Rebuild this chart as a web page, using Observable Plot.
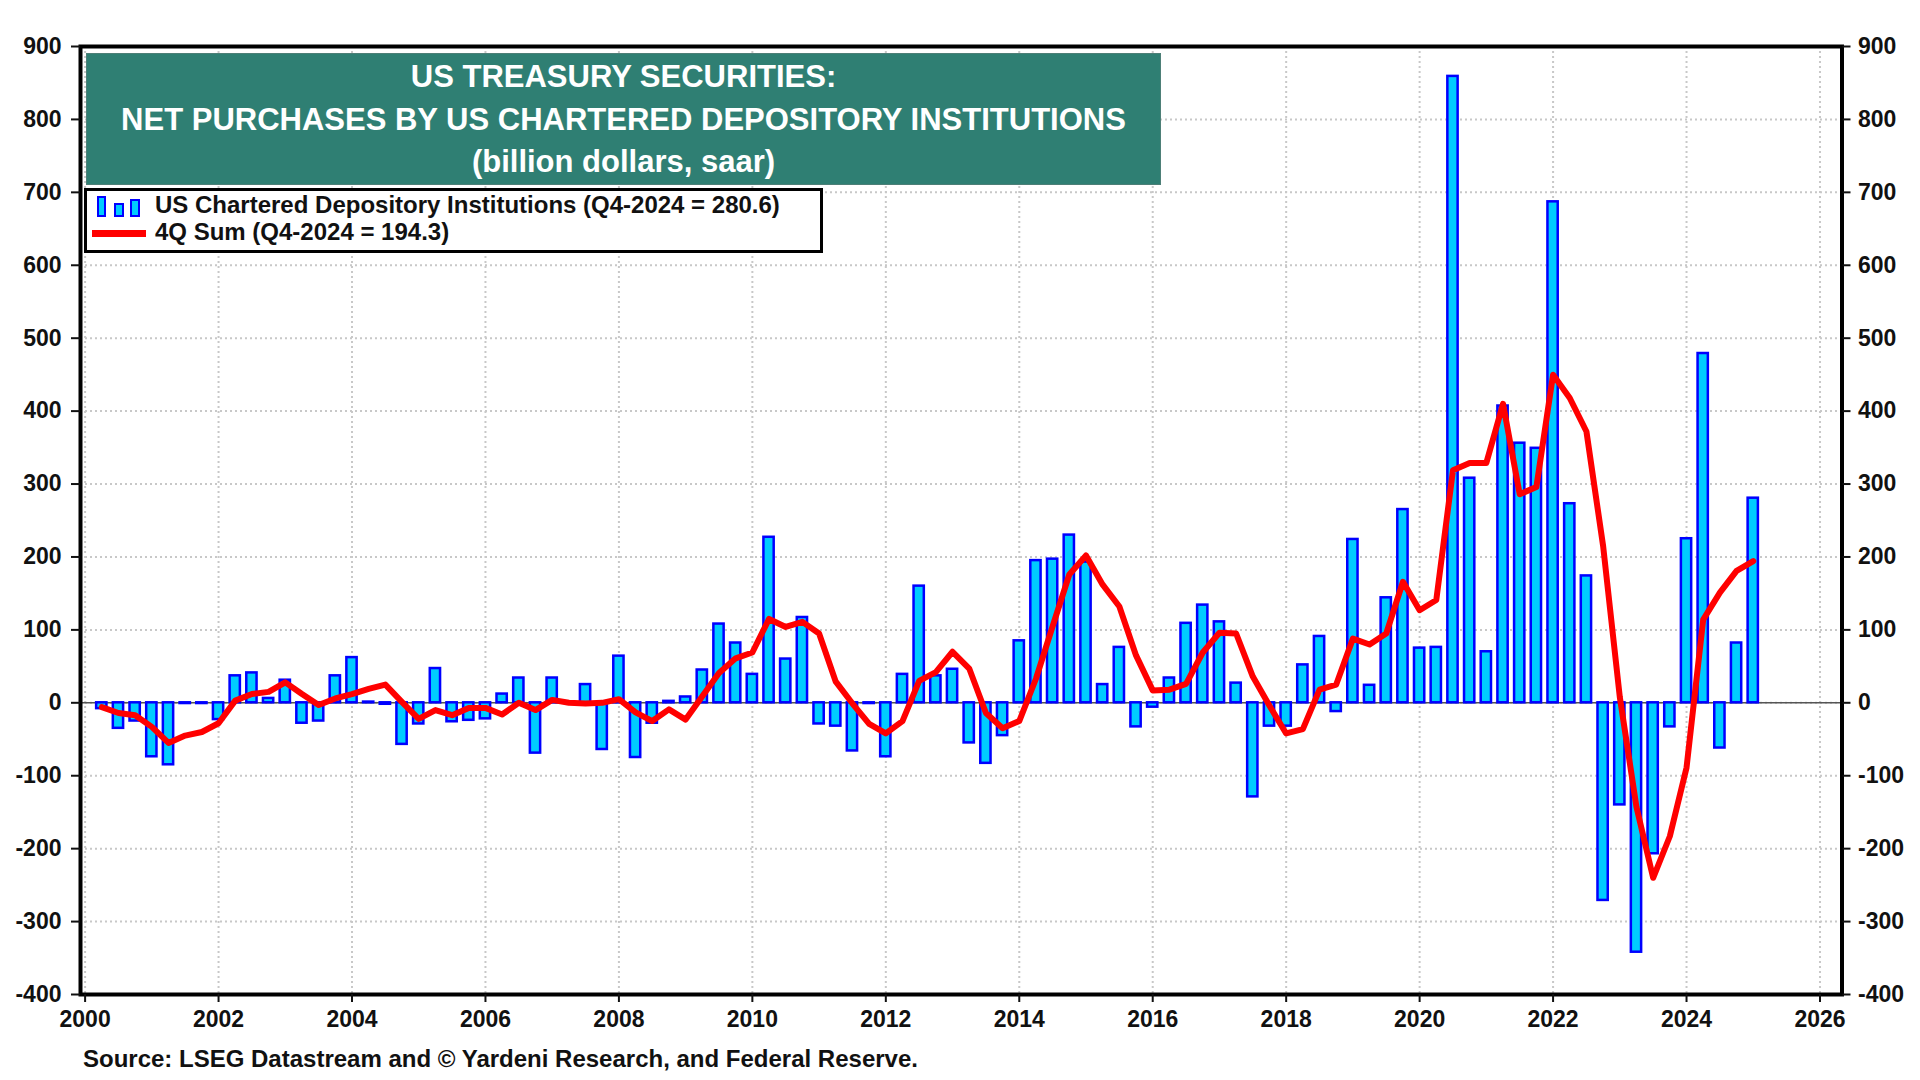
<!DOCTYPE html>
<html>
<head>
<meta charset="utf-8">
<script src="https://cdn.jsdelivr.net/npm/d3@7"></script>
<script src="https://cdn.jsdelivr.net/npm/@observablehq/plot@0.6"></script>
<style>
  html, body { margin: 0; padding: 0; background: white; }
  #wrap { position: relative; width: 1920px; height: 1080px; overflow: hidden; font-family: "Liberation Sans", Arial, sans-serif; font-weight: bold; }
  #title { position: absolute; left: 86px; top: 53px; width: 1075px; height: 132px; box-sizing: border-box;
           background: #2f7f73; border: 1px solid #4d7f77; color: white; font-size: 31px; line-height: 42.5px;
           text-align: center; padding-top: 2px; }
  #legend { position: absolute; left: 84px; top: 188px; width: 739px; height: 65px; box-sizing: border-box;
            background: white; border: 3px solid black; }
  .lt { position: absolute; left: 68px; font-size: 24px; line-height: 26px; color: #111; white-space: nowrap; }
  .ic { position: absolute; background: #00CCFF; border: 2px solid #0000FF; box-sizing: border-box; }
  #source { position: absolute; left: 83px; top: 1045px; font-size: 24px; line-height: 28px; color: #111; white-space: nowrap; }
</style>
</head>
<body>
<div id="wrap">
  <div id="chart"></div>
  <div id="title"></div>
  <div id="legend"></div>
  <div id="source"></div>
</div>
<script>
// ---- Data (quarterly, Q1-2000 .. Q4-2024) ----
const startYear = 2000;
const netPurchases = [
  -8, -35, -25, -74,      // 2000
  -85, -1, -1, -23,       // 2001
  37, 41, 6, 31,          // 2002
  -28, -25, 37, 62,       // 2003
  1, -2, -57, -29,        // 2004
  47, -26, -24, -22,      // 2005
  12, 34, -69, 34,        // 2006
  1, 25, -64, 64,         // 2007
  -75, -28, 2, 8,         // 2008
  45, 108, 82, 39,        // 2009
  227, 60, 117, -29,      // 2010
  -32, -66, -1, -74,      // 2011
  39, 160, 37, 46,        // 2012
  -55, -83, -45, 85,      // 2013
  195, 197, 230, 193,     // 2014
  25, 76, -33, -6,        // 2015
  34, 109, 134, 111,      // 2016
  27, -129, -32, -32,     // 2017
  52, 91, -12, 224,       // 2018
  24, 144, 265, 75,       // 2019
  76, 859, 308, 70,       // 2020
  407, 356, 349, 687,     // 2021
  273, 174, -271, -140,   // 2022
  -342, -207, -33, 225,   // 2023
  479, -62, 82, 280.6     // 2024
];
const fourQSum = [
  -6, -14, -17, -33,
  -55, -45, -40, -28,
  3, 12, 15, 28,
  12, -3, 6, 12,
  19, 25, 1, -22,
  -10, -17, -7, -7,
  -16, 0, -10, 4,
  0, -1, 0, 5,
  -13, -25, -9, -23,
  9, 41, 61, 69,
  115, 104, 111, 95,
  29, -1, -29, -42,
  -25, 30, 42, 70,
  47, -14, -35, -25,
  33, 105, 176, 202,
  162, 132, 65, 17,
  18, 26, 69, 96,
  95, 36, -4, -42,
  -36, 18, 25, 88,
  80, 95, 166, 127,
  141, 319, 329, 329,
  410, 286, 296, 450,
  418, 372, 215, 8,
  -143, -240, -183, -89,
  114, 151, 181, 194.3
];
const xTicks = [2000, 2002, 2004, 2006, 2008, 2010, 2012, 2014, 2016, 2018, 2020, 2022, 2024, 2026];
const yTicks = [-400, -300, -200, -100, 0, 100, 200, 300, 400, 500, 600, 700, 800, 900];
const titleLines = ["US TREASURY SECURITIES:", "NET PURCHASES BY US CHARTERED DEPOSITORY INSTITUTIONS", "(billion dollars, saar)"];
const seriesNames = ["US Chartered Depository Institutions", "4Q Sum"];
const lastLabel = "Q4-2024";
const sourceText = "Source: LSEG Datastream and © Yardeni Research, and Federal Reserve.";

// quarter-end positions (Q1-2000 -> 2000.25)
const data = netPurchases.map((v, i) => ({ t: startYear + (i + 1) / 4, v, s: fourQSum[i] }));

const gridStyle = { stroke: "#c8c8c8", strokeOpacity: 1, strokeWidth: 2, strokeDasharray: "2,3" };
const fmt = d => String(d);

const chart = Plot.plot({
  width: 1920,
  height: 1030,
  marginLeft: 80,
  marginRight: 78.5,
  marginTop: 46,
  marginBottom: 36,
  x: { domain: [1999.931, 2026.33] },
  y: { domain: [-400, 900] },
  style: { fontFamily: "'Liberation Sans', Arial, sans-serif", fontWeight: "bold", fontSize: "23px", color: "#111", background: "white", overflow: "visible" },
  marks: [
    Plot.gridX(xTicks, gridStyle),
    Plot.gridY(yTicks, gridStyle),
    Plot.ruleY([0], { stroke: "#555", strokeWidth: 1.5 }),
    Plot.rect(data, {
      x1: d => d.t - 0.125, x2: d => d.t + 0.125, y1: 0, y2: "v",
      insetLeft: 3.2, insetRight: 3.2,
      fill: "#00CCFF", stroke: "#0000FF", strokeWidth: 2.5
    }),
    Plot.line(data, { x: "t", y: "s", stroke: "#FF0000", strokeWidth: 6, strokeLinejoin: "round", strokeLinecap: "round" }),
    Plot.frame({ stroke: "black", strokeWidth: 4 }),
    Plot.axisY(yTicks, { anchor: "left", tickSize: 9, tickPadding: 10, tickFormat: fmt, strokeWidth: 2, label: null, fontSize: 23 }),
    Plot.axisY(yTicks, { anchor: "right", tickSize: 8, tickPadding: 8, tickFormat: fmt, strokeWidth: 2, label: null, fontSize: 23 }),
    Plot.axisX(xTicks, { anchor: "bottom", tickSize: 8, tickPadding: 8, tickFormat: fmt, strokeWidth: 2, label: null, fontSize: 23 })
  ]
});
document.getElementById("chart").appendChild(chart);

// Title
document.getElementById("title").innerHTML = titleLines.map(l => `<div>${l}</div>`).join("");

// Legend
const leg = document.getElementById("legend");
const ox = 84, oy = 188; // legend box origin (page coords)
const icons = [
  { l: 97, t: 196, w: 9, h: 21 },
  { l: 114, t: 203, w: 10, h: 14 },
  { l: 130, t: 199, w: 10, h: 18 }
];
icons.forEach(r => {
  const d = document.createElement("div");
  d.className = "ic";
  d.style.left = (r.l - ox - 3) + "px";
  d.style.top = (r.t - oy - 3) + "px";
  d.style.width = r.w + "px";
  d.style.height = r.h + "px";
  leg.appendChild(d);
});
const red = document.createElement("div");
red.style.cssText = `position:absolute; left:${92 - ox - 3}px; top:${229.5 - oy - 3}px; width:54px; height:7px; background:#FF0000;`;
leg.appendChild(red);
const t1 = document.createElement("div");
t1.className = "lt";
t1.style.top = (192 - oy - 3) + "px";
t1.textContent = `${seriesNames[0]} (${lastLabel} = ${netPurchases[netPurchases.length - 1].toFixed(1)})`;
leg.appendChild(t1);
const t2 = document.createElement("div");
t2.className = "lt";
t2.style.top = (219 - oy - 3) + "px";
t2.textContent = `${seriesNames[1]} (${lastLabel} = ${fourQSum[fourQSum.length - 1].toFixed(1)})`;
leg.appendChild(t2);

// Source
document.getElementById("source").textContent = sourceText;
</script>
</body>
</html>
